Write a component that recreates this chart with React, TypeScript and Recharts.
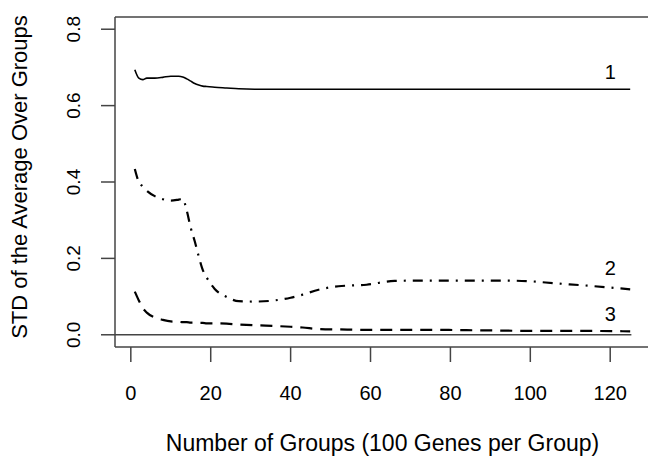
import { Line, LineChart, ReferenceDot, ReferenceLine, XAxis, YAxis } from 'recharts';

// number of groups (x) and the three curves
const groups = [1, 2, 3, 4, 6, 8, 10, 12, 13, 14, 15, 16, 17, 18, 19, 21, 24, 27, 31, 36, 40, 43, 47, 52, 59, 66, 75, 84, 93, 100, 106, 115, 125];
const curve1 = [0.694, 0.672, 0.668, 0.672, 0.672, 0.674, 0.677, 0.677, 0.675, 0.670, 0.664, 0.658, 0.654, 0.651, 0.650, 0.648, 0.646, 0.644, 0.643, 0.643, 0.643, 0.643, 0.643, 0.643, 0.643, 0.643, 0.643, 0.643, 0.643, 0.643, 0.643, 0.643, 0.643];
const curve2 = [0.434, 0.400, 0.388, 0.377, 0.363, 0.355, 0.351, 0.354, 0.356, 0.325, 0.280, 0.245, 0.205, 0.170, 0.150, 0.120, 0.099, 0.088, 0.087, 0.090, 0.097, 0.105, 0.118, 0.127, 0.131, 0.141, 0.142, 0.142, 0.142, 0.140, 0.135, 0.128, 0.119];
const curve3 = [0.113, 0.090, 0.070, 0.058, 0.045, 0.039, 0.035, 0.034, 0.033, 0.033, 0.032, 0.032, 0.031, 0.031, 0.030, 0.030, 0.029, 0.027, 0.025, 0.023, 0.021, 0.019, 0.015, 0.014, 0.013, 0.013, 0.013, 0.012, 0.011, 0.010, 0.010, 0.010, 0.009];

const xTicks = [0, 20, 40, 60, 80, 100, 120];
const yTicks = [0, 0.2, 0.4, 0.6, 0.8];

// curve labels placed in data coordinates
const curveLabels = [
  { text: '1', x: 120, y: 0.688 },
  { text: '2', x: 120, y: 0.175 },
  { text: '3', x: 120, y: 0.055 },
];

const rows = groups.map((g, i) => ({ g, c1: curve1[i], c2: curve2[i], c3: curve3[i] }));

const FONT = '"Liberation Sans", Arial, Helvetica, sans-serif';
const AXIS = '#444';

const XTick = ({ x, payload }: any) => (
  <text x={x} y={400} textAnchor="middle" fontSize={20} fontFamily={FONT} fill="#000">
    {payload.value}
  </text>
);

const YTick = ({ y, payload }: any) => (
  <text x={80} y={y} transform={`rotate(-90, 80, ${y})`} textAnchor="middle" fontSize={19} fontFamily={FONT} fill="#000">
    {Number(payload.value).toFixed(1)}
  </text>
);

const App = () => {
  return (
    <div style={{ position: 'fixed', left: 0, top: 0, width: 648, height: 460, overflow: 'hidden', background: '#fff' }}>
      <LineChart width={652} height={460} data={rows} margin={{ top: 17, right: 2, bottom: 0, left: 0 }}>
        <XAxis
          dataKey="g"
          type="number"
          domain={[-3.96, 129.96]}
          ticks={xTicks}
          allowDataOverflow
          height={113}
          tickSize={15}
          axisLine={{ stroke: AXIS, strokeWidth: 1.5 }}
          tickLine={{ stroke: AXIS, strokeWidth: 1.5 }}
          tick={<XTick />}
          label={{ value: 'Number of Groups (100 Genes per Group)', position: 'insideBottom', offset: 9, fontSize: 23, fontFamily: FONT, fill: '#000' }}
        />
        <YAxis
          type="number"
          domain={[-0.032, 0.832]}
          ticks={yTicks}
          allowDataOverflow
          width={115}
          tickSize={14}
          axisLine={{ stroke: AXIS, strokeWidth: 1.5 }}
          tickLine={{ stroke: AXIS, strokeWidth: 1.5 }}
          tick={<YTick />}
        />
        <text x={27} y={177} transform="rotate(-90, 27, 177)" textAnchor="middle" fontSize={22} fontFamily={FONT} fill="#000">
          STD of the Average Over Groups
        </text>
        <ReferenceLine y={0.832} stroke={AXIS} strokeWidth={1.5} />
        <ReferenceLine segment={[{ x: -3.96, y: 0 }, { x: 125.3, y: 0 }]} stroke={AXIS} strokeWidth={1.5} />
        <Line dataKey="c1" type="monotone" stroke="#000" strokeWidth={1.6} dot={false} isAnimationActive={false} />
        <Line dataKey="c2" type="monotone" stroke="#000" strokeWidth={2.2} strokeDasharray="10 7 2 7" dot={false} isAnimationActive={false} />
        <Line dataKey="c3" type="monotone" stroke="#000" strokeWidth={2.2} strokeDasharray="12 8" dot={false} isAnimationActive={false} />
        {curveLabels.map((l) => (
          <ReferenceDot
            key={l.text}
            x={l.x}
            y={l.y}
            r={0}
            fill="none"
            stroke="none"
            label={{ value: l.text, position: 'center', fontSize: 20, fontFamily: FONT, fill: '#000' }}
          />
        ))}
      </LineChart>
    </div>
  );
};

export default App;
